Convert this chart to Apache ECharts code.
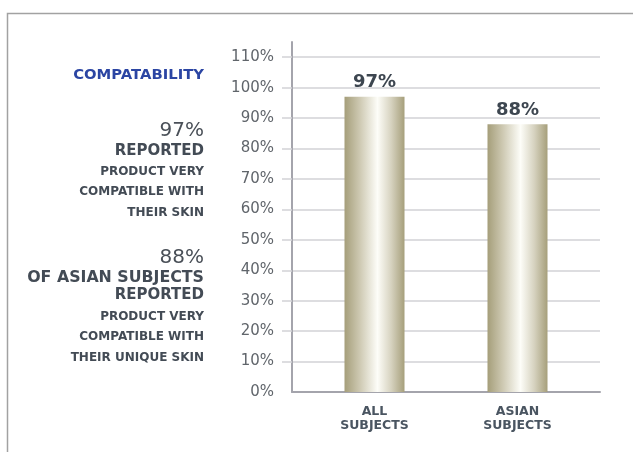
<!DOCTYPE html>
<html>
<head>
<meta charset="utf-8">
<script src="https://cdn.jsdelivr.net/npm/echarts@6/dist/echarts.min.js"></script>
<style>
  html, body { margin: 0; padding: 0; background: #ffffff; }
  #chart { width: 633px; height: 452px; }
</style>
</head>
<body>
<div id="chart"></div>
<script>
// Survey results: share of subjects reporting the product as very compatible
const categories = ['ALL\nSUBJECTS', 'ASIAN\nSUBJECTS'];
const compatibleShare = [97, 88];
const yTicks = [0, 10, 20, 30, 40, 50, 60, 70, 80, 90, 100, 110];

// Side panel copy, one entry per line
const panelTitle = 'COMPATABILITY';
const allSubjectsNote = ['97%', 'REPORTED', 'PRODUCT VERY', 'COMPATIBLE WITH', 'THEIR SKIN'];
const asianSubjectsNote = ['88%', 'OF ASIAN SUBJECTS', 'REPORTED', 'PRODUCT VERY', 'COMPATIBLE WITH', 'THEIR UNIQUE SKIN'];

const FONT = '"DejaVu Sans", sans-serif';
const TEXT_DARK = '#434b55';
const AXIS_GREY = '#a4a4ac';
const GRID_GREY = '#d2d2d6';

const chart = echarts.init(document.getElementById('chart'), null, { renderer: 'canvas' });

const barFill = new echarts.graphic.LinearGradient(0, 0, 1, 0, [
  { offset: 0.00, color: '#a59e7a' },
  { offset: 0.25, color: '#cdc8b1' },
  { offset: 0.55, color: '#fdfdf8' },
  { offset: 0.78, color: '#d6d2bf' },
  { offset: 1.00, color: '#a69f7b' }
]);

// Styles for each line of the side notes
const noteStyles = {
  big: { font: '20px ' + FONT, color: '#4a5058' },
  mid: { font: 'bold 15px ' + FONT, color: TEXT_DARK },
  wide: { font: 'bold 15.8px ' + FONT, color: TEXT_DARK },
  small: { font: 'bold 12px ' + FONT, color: TEXT_DARK }
};

function noteLines(lines, kinds, centers) {
  return lines.map((txt, i) => ({
    type: 'text',
    x: 204,
    y: centers[i],
    style: {
      text: txt,
      font: noteStyles[kinds[i]].font,
      fill: noteStyles[kinds[i]].color,
      textAlign: 'right',
      textVerticalAlign: 'middle'
    }
  }));
}

const graphics = [
  // page frame
  {
    type: 'polyline',
    shape: { points: [[7.5, 452], [7.5, 13.5], [633, 13.5]] },
    style: { stroke: '#a2a2a2', lineWidth: 1.5, fill: null }
  },
  {
    type: 'text',
    x: 204,
    y: 75,
    style: {
      text: panelTitle,
      font: 'bold 14.8px ' + FONT,
      fill: '#2b45a3',
      textAlign: 'right',
      textVerticalAlign: 'middle'
    }
  }
].concat(
  noteLines(allSubjectsNote, ['big', 'mid', 'small', 'small', 'small'], [131, 151, 172, 192, 212.5]),
  noteLines(asianSubjectsNote, ['big', 'wide', 'mid', 'small', 'small', 'small'], [258, 277.5, 295.5, 316.5, 337, 358])
);

const option = {
  animation: false,
  backgroundColor: '#ffffff',
  grid: [
    // frame grid: axes, ticks, gridlines
    { left: 292, right: 33, top: 42, bottom: 60 },
    // bar grid
    { left: 303, right: 44, top: 42, bottom: 60 }
  ],
  xAxis: [
    {
      gridIndex: 0,
      type: 'value',
      min: 0,
      max: 1,
      axisLine: { show: true, lineStyle: { color: AXIS_GREY, width: 2 } },
      axisTick: { show: false },
      axisLabel: { show: false },
      splitLine: { show: false }
    },
    {
      gridIndex: 1,
      type: 'category',
      data: categories,
      axisLine: { show: false },
      axisTick: { show: false },
      axisLabel: {
        margin: 12,
        fontFamily: FONT,
        fontWeight: 'bold',
        fontSize: 12.5,
        lineHeight: 14.5,
        color: '#4a5561'
      }
    }
  ],
  yAxis: [
    {
      gridIndex: 0,
      type: 'value',
      min: 0,
      max: 115,
      interval: 10,
      axisLine: { show: true, lineStyle: { color: AXIS_GREY, width: 2 } },
      axisTick: {
        show: true,
        length: 10,
        customValues: yTicks.slice(1),
        lineStyle: { color: GRID_GREY, width: 1.5 }
      },
      axisLabel: {
        customValues: yTicks,
        margin: 18,
        fontFamily: FONT,
        fontSize: 15,
        color: '#60656b',
        formatter: v => v + '%'
      },
      splitLine: {
        show: true,
        showMinLine: true,
        showMaxLine: true,
        lineStyle: { color: GRID_GREY, width: 1.5 }
      }
    },
    {
      gridIndex: 1,
      type: 'value',
      min: 0,
      max: 115,
      show: false
    }
  ],
  series: [
    {
      type: 'bar',
      xAxisIndex: 1,
      yAxisIndex: 1,
      data: compatibleShare,
      barWidth: 60,
      itemStyle: { color: barFill },
      label: {
        show: true,
        position: 'top',
        distance: 5,
        formatter: p => p.value + '%',
        fontFamily: FONT,
        fontWeight: 'bold',
        fontSize: 18,
        color: '#3d4650'
      }
    }
  ],
  graphic: graphics
};

chart.setOption(option);
</script>
</body>
</html>
